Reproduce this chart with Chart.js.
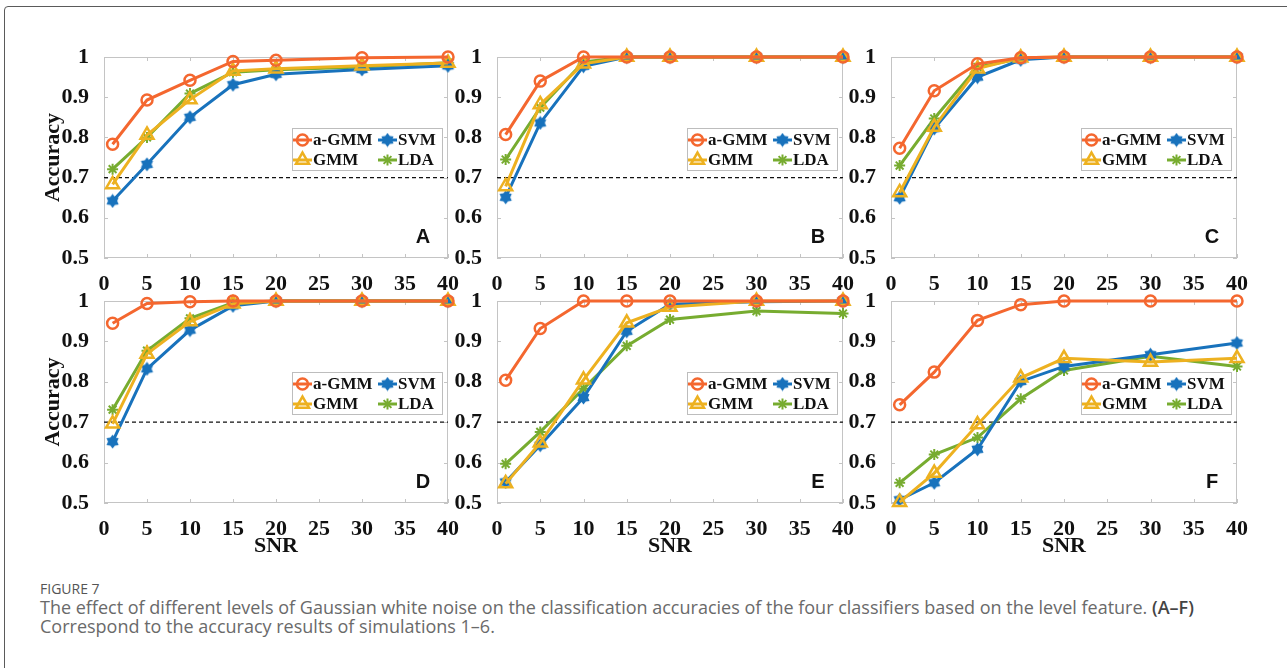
<!DOCTYPE html>
<html>
<head>
<meta charset="utf-8">
<script src="https://cdn.jsdelivr.net/npm/chart.js@4.4.1/dist/chart.umd.min.js"></script>
<style>
  html, body { margin: 0; padding: 0; background: #fff; }
  body { width: 1287px; height: 668px; position: relative; overflow: hidden; }
  .frame { position: absolute; left: 4px; top: 6px; width: 1400px; height: 800px;
           border: 1px solid #5a5a5a; border-radius: 4px; box-sizing: border-box; }
  canvas { position: absolute; }
  .fig-no { position: absolute; left: 40px; top: 579px; font: 14px "Open Sans", sans-serif;
            color: #555; }
  .caption { position: absolute; left: 40px; top: 598px; margin: 0; width: 1240px;
             font: 18px/19px "Open Sans", sans-serif; color: #6a6a6a; white-space: nowrap; }
  .caption b { color: #444; font-weight: 600; }
</style>
</head>
<body>
<div class="frame"></div>
<div id="panels"></div>
<div class="fig-no">FIGURE 7</div>
<p class="caption">The effect of different levels of Gaussian white noise on the classification accuracies of the four classifiers based on the level feature. <b>(A–F)</b><br>Correspond to the accuracy results of simulations 1–6.</p>

<script>
// SNR levels shared by every panel
const snr = [1, 5, 10, 15, 20, 30, 40];

// accuracy per classifier, simulations 1-6 (panels A-F)
const aGmmA = [0.783, 0.893, 0.942, 0.989, 0.992, 0.998, 1.0];
const gmmA  = [0.683, 0.806, 0.894, 0.965, 0.971, 0.978, 0.985];
const svmA  = [0.642, 0.733, 0.850, 0.931, 0.957, 0.969, 0.978];
const ldaA  = [0.721, 0.800, 0.909, 0.962, 0.968, 0.975, 0.986];

const aGmmB = [0.807, 0.940, 1.0, 1.0, 1.0, 1.0, 1.0];
const gmmB  = [0.678, 0.882, 0.983, 1.0, 1.0, 1.0, 1.0];
const svmB  = [0.651, 0.836, 0.977, 1.0, 1.0, 1.0, 1.0];
const ldaB  = [0.745, 0.874, 0.988, 1.0, 1.0, 1.0, 1.0];

const aGmmC = [0.773, 0.916, 0.983, 0.998, 1.0, 1.0, 1.0];
const gmmC  = [0.663, 0.826, 0.971, 0.998, 1.0, 1.0, 1.0];
const svmC  = [0.650, 0.822, 0.950, 0.993, 1.0, 1.0, 1.0];
const ldaC  = [0.730, 0.847, 0.975, 0.996, 1.0, 1.0, 1.0];

const aGmmD = [0.945, 0.994, 0.998, 1.0, 1.0, 1.0, 1.0];
const gmmD  = [0.696, 0.869, 0.949, 0.993, 1.0, 1.0, 1.0];
const svmD  = [0.652, 0.832, 0.928, 0.988, 1.0, 1.0, 1.0];
const ldaD  = [0.731, 0.877, 0.957, 0.996, 1.0, 1.0, 1.0];

const aGmmE = [0.804, 0.932, 1.0, 1.0, 1.0, 1.0, 1.0];
const gmmE  = [0.548, 0.649, 0.805, 0.946, 0.985, 1.0, 1.0];
const svmE  = [0.552, 0.643, 0.761, 0.925, 0.992, 0.998, 1.0];
const ldaE  = [0.597, 0.676, 0.783, 0.889, 0.954, 0.975, 0.969];

const aGmmF = [0.743, 0.824, 0.952, 0.991, 1.0, 1.0, 1.0];
const gmmF  = [0.502, 0.574, 0.694, 0.810, 0.858, 0.849, 0.858];
const svmF  = [0.508, 0.550, 0.633, 0.801, 0.838, 0.867, 0.896];
const ldaF  = [0.550, 0.620, 0.662, 0.758, 0.828, 0.863, 0.838];

const threshold = 0.7;
const seriesNames = ['a-GMM', 'GMM', 'SVM', 'LDA'];
const panelLetters = ['A', 'B', 'C', 'D', 'E', 'F'];

const panelData = [
    [aGmmA, gmmA, svmA, ldaA],
    [aGmmB, gmmB, svmB, ldaB],
    [aGmmC, gmmC, svmC, ldaC],
    [aGmmD, gmmD, svmD, ldaD],
    [aGmmE, gmmE, svmE, ldaE],
    [aGmmF, gmmF, svmF, ldaF]
];

const orange = '#F4672F';
const yellow = '#EDB120';
const blue = '#1872BC';
const green = '#77AC30';

// plot-area geometry of the 2x3 grid
const colLeft = [104, 497, 891];
const colWidth = [344, 346, 346];
const rowTop = [57, 301];
const rowHeight = [201, 202];
const axisW = 104;
const padTop = 57;
const xAxisH = 62;

const serif = 'Liberation Serif, Times New Roman, serif';
const tickFont = { family: serif, size: 22, weight: 'bold' };

// filled six-point star used for SVM
function hexStar(color) {
    const c = document.createElement('canvas');
    c.width = 15; c.height = 15;
    const g = c.getContext('2d');
    g.fillStyle = color;
    g.beginPath();
    for (let i = 0; i < 12; i++) {
        const r = i % 2 ? 4.6 : 7;
        const a = -Math.PI / 2 + i * Math.PI / 6;
        g.lineTo(7.5 + r * Math.cos(a), 7.5 + r * Math.sin(a));
    }
    g.closePath();
    g.fill();
    return c;
}
const svmMark = hexStar(blue);

const seriesStyle = [
    { color: orange, pointStyle: 'circle', radius: 5.5, pw: 2.5, order: 0 },
    { color: yellow, pointStyle: 'triangle', radius: 7.5, pw: 2.5, order: 1 },
    { color: blue, pointStyle: svmMark, radius: 6, pw: 1, order: 2 },
    { color: green, pointStyle: 'star', radius: 5.5, pw: 2, order: 3 }
];

function drawMark(ctx, ds, x, y) {
    const style = ds.pointStyle;
    if (style instanceof HTMLCanvasElement) {
        ctx.drawImage(style, x - style.width / 2, y - style.height / 2);
        return;
    }
    const r = ds.pointRadius;
    ctx.save();
    ctx.strokeStyle = ds.pointBorderColor;
    ctx.lineWidth = ds.pointBorderWidth;
    ctx.beginPath();
    if (style === 'circle') {
        ctx.arc(x, y, r, 0, Math.PI * 2);
    } else if (style === 'triangle') {
        for (let k = 0; k < 3; k++) {
            const a = k * 2 * Math.PI / 3;
            ctx.lineTo(x + Math.sin(a) * r, y - Math.cos(a) * r);
        }
        ctx.closePath();
    } else {
        for (let k = 0; k < 4; k++) {
            const a = k * Math.PI / 4;
            ctx.moveTo(x + Math.cos(a) * r, y + Math.sin(a) * r);
            ctx.lineTo(x - Math.cos(a) * r, y - Math.sin(a) * r);
        }
    }
    ctx.stroke();
    ctx.restore();
}

// axes box, inner ticks, legend and panel letter
function makeDecor(letter) {
    return {
        id: 'decor',
        beforeDatasetsDraw(chart) {
            const { ctx, chartArea: a, scales } = chart;
            ctx.save();
            ctx.strokeStyle = '#c4c4c4';
            ctx.lineWidth = 1;
            ctx.strokeRect(a.left + 0.5, a.top + 0.5, a.right - a.left - 1, a.bottom - a.top - 1);
            ctx.beginPath();
            scales.y.ticks.forEach(t => {
                const py = Math.round(scales.y.getPixelForValue(t.value)) + 0.5;
                ctx.moveTo(a.left, py); ctx.lineTo(a.left + 4, py);
                ctx.moveTo(a.right, py); ctx.lineTo(a.right - 4, py);
            });
            scales.x.ticks.forEach(t => {
                const px = Math.round(scales.x.getPixelForValue(t.value)) + 0.5;
                ctx.moveTo(px, a.bottom); ctx.lineTo(px, a.bottom - 4);
                ctx.moveTo(px, a.top); ctx.lineTo(px, a.top + 4);
            });
            ctx.stroke();
            ctx.restore();
        },
        afterDatasetsDraw(chart) {
            const { ctx, chartArea: a } = chart;
            const sets = chart.data.datasets;
            const L = a.right - 156, T = a.top + 71;
            ctx.save();
            ctx.fillStyle = '#fff';
            ctx.fillRect(L, T, 150, 42);
            ctx.strokeStyle = '#bdbdbd';
            ctx.lineWidth = 1;
            ctx.strokeRect(L + 0.5, T + 0.5, 150, 42);
            // two columns: a-GMM / GMM, then SVM / LDA
            const slots = [[0, 0, 0], [1, 0, 1], [2, 1, 0], [3, 1, 1]];
            ctx.font = 'bold 17px ' + serif;
            ctx.textBaseline = 'middle';
            slots.forEach(([i, col, row]) => {
                const ds = sets[i];
                const x0 = L + (col ? 86 : 1);
                const y0 = T + (row ? 32 : 12);
                ctx.strokeStyle = ds.borderColor;
                ctx.lineWidth = 3;
                ctx.beginPath();
                ctx.moveTo(x0, y0); ctx.lineTo(x0 + 19, y0);
                ctx.stroke();
                drawMark(ctx, ds, x0 + 9.5, y0);
                ctx.fillStyle = '#111';
                ctx.fillText(ds.label, x0 + 20, y0 + 1);
            });
            ctx.font = 'bold 20px Liberation Sans, Arial, sans-serif';
            ctx.textAlign = 'center';
            ctx.fillStyle = '#111';
            ctx.fillText(letter, a.right - 25, a.bottom - 21);
            ctx.restore();
        }
    };
}

const holder = document.getElementById('panels');

panelData.forEach((vals, p) => {
    const col = p % 3, row = Math.floor(p / 3);
    const plotW = colWidth[col], plotH = rowHeight[row];
    const canvas = document.createElement('canvas');
    canvas.width = axisW + plotW + 26;
    canvas.height = padTop + plotH + xAxisH;
    canvas.style.left = (colLeft[col] - axisW) + 'px';
    canvas.style.top = (rowTop[row] - padTop) + 'px';
    holder.appendChild(canvas);

    const datasets = vals.map((v, i) => {
        const s = seriesStyle[i];
        return {
            label: seriesNames[i],
            data: snr.map((x, k) => ({ x: x, y: v[k] })),
            borderColor: s.color,
            backgroundColor: s.color,
            borderWidth: 3,
            pointStyle: s.pointStyle,
            pointRadius: s.radius,
            pointBorderWidth: s.pw,
            pointBorderColor: s.color,
            pointBackgroundColor: 'rgba(0,0,0,0)',
            tension: 0,
            clip: false,
            order: s.order
        };
    });
    // dashed 0.7 reference level
    datasets.push({
        label: 'ref',
        data: [{ x: 0, y: threshold }, { x: 40, y: threshold }],
        borderColor: '#111',
        borderWidth: 1.3,
        borderDash: [4, 3],
        pointRadius: 0,
        order: 9
    });

    new Chart(canvas.getContext('2d'), {
        type: 'line',
        data: { datasets: datasets },
        options: {
            responsive: false,
            animation: false,
            events: [],
            layout: { padding: { left: 0, top: padTop, right: 26, bottom: 0 } },
            plugins: { legend: { display: false }, tooltip: { enabled: false } },
            scales: {
                x: {
                    type: 'linear',
                    min: 0, max: 40,
                    grid: { display: false },
                    border: { display: false },
                    ticks: { stepSize: 5, autoSkip: false, maxRotation: 0, padding: 5, color: '#111', font: tickFont },
                    title: { display: row === 1, text: 'SNR', color: '#111', font: tickFont, padding: { top: 0, bottom: 5 } },
                    afterFit: s => { s.height = xAxisH; }
                },
                y: {
                    min: 0.5, max: 1,
                    grid: { display: false },
                    border: { display: false },
                    ticks: {
                        stepSize: 0.1, padding: 7, color: '#111', font: tickFont,
                        callback: v => String(+v.toFixed(1))
                    },
                    title: { display: col === 0, text: 'Accuracy', color: '#111', font: tickFont, padding: { top: 40, bottom: 0 } },
                    afterFit: s => { s.width = axisW; }
                }
            }
        },
        plugins: [makeDecor(panelLetters[p])]
    });
});
</script>
</body>
</html>
